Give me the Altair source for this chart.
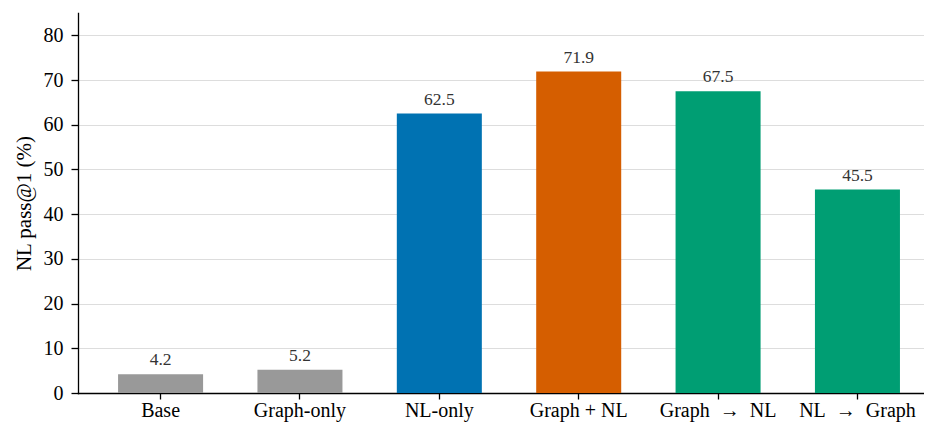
import altair as alt
import pandas as pd

categories = ["Base", "Graph-only", "NL-only", "Graph + NL", "Graph\u2002→\u2002NL", "NL\u2002→\u2002Graph"]
values = [4.2, 5.2, 62.5, 71.9, 67.5, 45.5]
colors = ["#999999", "#999999", "#0072B2", "#D55E00", "#009E73", "#009E73"]
y_ticks = [0, 10, 20, 30, 40, 50, 60, 70, 80]

df = pd.DataFrame({"cat": categories, "val": values, "color": colors})
df["label"] = df["val"].map(lambda v: f"{v:.1f}")

FONT = "Liberation Serif"

x_enc = alt.X(
    "cat:N",
    sort=categories,
    scale=alt.Scale(paddingInner=0.39, paddingOuter=0.23, align=0.625),
    axis=alt.Axis(
        title=None, labelAngle=0, labelFontSize=20, labelFont=FONT, labelColor="black",
        domainColor="black", domainWidth=1.3, tickColor="black", tickWidth=1.3, tickSize=6,
        labelPadding=1, grid=False,
    ),
)
y_enc = alt.Y(
    "val:Q",
    scale=alt.Scale(domain=[0, 85], nice=False),
    axis=alt.Axis(
        title="NL pass@1 (%)", titleFont=FONT, titleFontSize=21, titleFontWeight="normal",
        titleColor="black", titlePadding=9, values=y_ticks, labelFontSize=20, labelFont=FONT,
        labelColor="black", domainColor="black", domainWidth=1.3, tickColor="black",
        tickWidth=1.3, tickSize=7, labelPadding=8, grid=True, gridColor="#dddddd", gridWidth=1,
    ),
)

bars = alt.Chart(df).mark_bar().encode(
    x=x_enc, y=y_enc, color=alt.Color("color:N", scale=None)
)
text = alt.Chart(df).mark_text(
    baseline="alphabetic", dy=-9, fontSize=17.5, font=FONT, color="#333333"
).encode(x=alt.X("cat:N", sort=categories), y="val:Q", text="label:N")

chart = (bars + text).properties(
    width=846, height=380,
    autosize=alt.AutoSizeParams(type="none"),
    padding={"left": 70, "top": 5, "right": 0, "bottom": 32},
).configure_view(stroke=None).configure_axis(domainCap="square")

chart.save("out.html", embed_options={"renderer": "svg", "actions": False})
